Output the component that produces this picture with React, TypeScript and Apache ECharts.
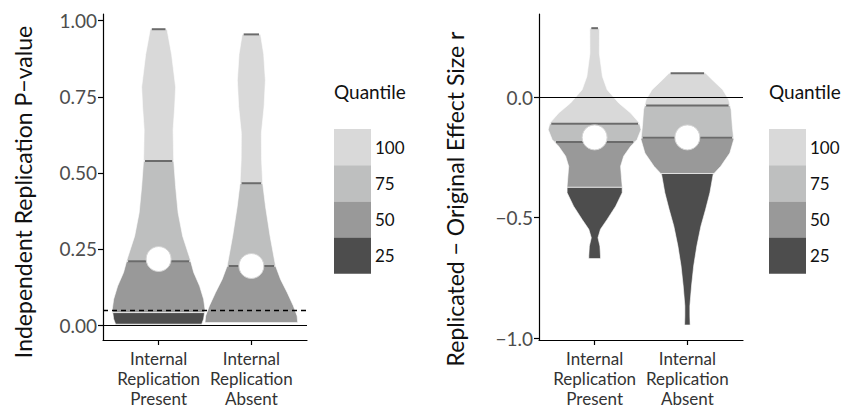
import React, { useEffect, useRef } from "react";
import * as echarts from "echarts";

// ---------- data ----------
const categories = ["Internal\nReplication\nPresent", "Internal\nReplication\nAbsent"];
const quantileLabels = ["100", "75", "50", "25"];

// Left panel: independent replication p-value
// violin outline: [value, half-width in category units], bottom to top
const pPresentProfile = [
  [0.003, 0.464], [0.02, 0.485], [0.052, 0.5], [0.085, 0.485], [0.128, 0.442],
  [0.173, 0.378], [0.216, 0.34], [0.292, 0.259], [0.369, 0.21], [0.455, 0.183],
  [0.543, 0.162], [0.641, 0.156], [0.717, 0.173], [0.782, 0.183], [0.889, 0.14],
  [0.972, 0.09],
];
const pAbsentProfile = [
  [0.008, 0.5], [0.03, 0.493], [0.063, 0.453], [0.107, 0.386], [0.15, 0.315],
  [0.194, 0.261], [0.292, 0.202], [0.389, 0.153], [0.466, 0.122], [0.543, 0.11],
  [0.63, 0.108], [0.717, 0.137], [0.804, 0.151], [0.89, 0.133], [0.955, 0.099],
];
// [min, q25, q50, q75, max]
const pPresentQuantiles = [0.003, 0.041, 0.21, 0.539, 0.972];
const pAbsentQuantiles = [0.008, 0.008, 0.194, 0.466, 0.955];
const pMeans = [0.217, 0.194];
const pTicks = [0, 0.25, 0.5, 0.75, 1];
const pThreshold = 0.05;

// Right panel: replicated - original effect size r
const rPresentProfile = [
  [-0.67, 0.063], [-0.659, 0.063], [-0.618, 0.057], [-0.583, 0.036], [-0.548, 0.063],
  [-0.507, 0.135], [-0.452, 0.227], [-0.396, 0.297], [-0.369, 0.297], [-0.327, 0.288],
  [-0.286, 0.28], [-0.244, 0.313], [-0.203, 0.388], [-0.175, 0.458], [-0.134, 0.5],
  [-0.106, 0.482], [-0.065, 0.388], [-0.023, 0.259], [0.032, 0.135], [0.087, 0.084],
  [0.183, 0.051], [0.288, 0.052],
];
const rAbsentProfile = [
  [-0.946, 0.03], [-0.908, 0.027], [-0.867, 0.027], [-0.784, 0.045], [-0.701, 0.068],
  [-0.618, 0.102], [-0.535, 0.146], [-0.465, 0.197], [-0.396, 0.243], [-0.32, 0.278],
  [-0.286, 0.36], [-0.231, 0.458], [-0.175, 0.5], [-0.12, 0.485], [-0.051, 0.472],
  [-0.01, 0.446], [0.032, 0.381], [0.073, 0.27], [0.101, 0.197],
];
const rPresentQuantiles = [-0.67, -0.373, -0.185, -0.109, 0.288];
const rAbsentQuantiles = [-0.946, -0.316, -0.168, -0.033, 0.101];
const rMeans = [-0.166, -0.166];
const rTicks = [-1, -0.5, 0];

// ---------- styles ----------
const FONT = "Lato";
const bandColors = ["#4d4d4d", "#999999", "#bebfbf", "#d9d9d9"]; // 25, 50, 75, 100
const legendColors = ["#d9d9d9", "#bebfbf", "#999999", "#4d4d4d"]; // 100..25

function hwAt(prof: number[][], v: number) {
  if (v <= prof[0][0]) return prof[0][1];
  for (let k = 1; k < prof.length; k++) {
    if (v <= prof[k][0]) {
      const [v0, h0] = prof[k - 1];
      const [v1, h1] = prof[k];
      return h0 + ((h1 - h0) * (v - v0)) / (v1 - v0);
    }
  }
  return prof[prof.length - 1][1];
}

function makeRenderItem(profiles: number[][][], quantiles: number[][]) {
  return (params: any, api: any) => {
    const i = params.dataIndex;
    const cat = api.value(0);
    const prof = profiles[i];
    const q = quantiles[i];
    const children: any[] = [];
    for (let b = 0; b < 4; b++) {
      const lo = q[b];
      const hi = q[b + 1];
      if (hi - lo < 1e-6) continue;
      const pts = [[lo, hwAt(prof, lo)], ...prof.filter((p) => p[0] > lo && p[0] < hi), [hi, hwAt(prof, hi)]];
      const right = pts.map(([v, h]) => api.coord([cat + h, v]));
      const left = pts.slice().reverse().map(([v, h]) => api.coord([cat - h, v]));
      children.push({
        type: "polygon",
        shape: { points: right.concat(left) },
        style: { fill: bandColors[b], stroke: "rgba(255,255,255,0.85)", lineWidth: 0.7 },
      });
    }
    for (const qi of [2, 3, 4]) {
      const v = q[qi];
      const h = hwAt(prof, v);
      const a = api.coord([cat - h, v]);
      const c = api.coord([cat + h, v]);
      children.push({
        type: "line",
        shape: { x1: a[0] + 1.5, y1: a[1], x2: c[0] - 1.5, y2: c[1] },
        style: { stroke: "#6b6b6b", lineWidth: 2 },
      });
    }
    return { type: "group", children };
  };
}

function xAxisFor(gridIndex: number) {
  return {
    type: "value",
    gridIndex,
    min: 0.4,
    max: 2.6,
    splitLine: { show: false },
    axisLine: { show: true, onZero: false, lineStyle: { color: "#000", width: 1.2 } },
    axisTick: { show: true, customValues: [1, 2], length: 5, lineStyle: { color: "#000", width: 1.2 } },
    axisLabel: {
      show: true,
      customValues: [1, 2],
      formatter: (v: number) => categories[Math.round(v) - 1],
      fontFamily: FONT,
      fontSize: 17,
      lineHeight: 20,
      color: "#333",
      margin: 8,
    },
  };
}

function yAxisFor(gridIndex: number, min: number, max: number, ticks: number[], digits: number) {
  return {
    type: "value",
    gridIndex,
    min,
    max,
    splitLine: { show: false },
    axisLine: { show: true, onZero: false, lineStyle: { color: "#000", width: 1.2 } },
    axisTick: { show: true, customValues: ticks, length: 5, lineStyle: { color: "#000", width: 1.2 } },
    axisLabel: {
      show: true,
      customValues: ticks,
      formatter: (v: number) => (v < 0 ? "\u2212" : "") + Math.abs(v).toFixed(digits),
      fontFamily: FONT,
      fontSize: 19,
      color: "#4d4d4d",
      margin: 6,
    },
  };
}

function legendGraphics(x: number) {
  const els: any[] = [
    {
      type: "text",
      x,
      y: 91,
      style: { text: "Quantile", fontFamily: FONT, fontSize: 19, fill: "#111", verticalAlign: "middle", align: "left" },
    },
  ];
  const top = 129;
  const h = 36.2;
  quantileLabels.forEach((lab, k) => {
    els.push({
      type: "rect",
      shape: { x, y: top + k * h, width: 37, height: h },
      style: { fill: legendColors[k] },
    });
    els.push({
      type: "text",
      x: x + 41,
      y: top + k * h + h / 2,
      style: { text: lab, fontFamily: FONT, fontSize: 17, fill: "#111", verticalAlign: "middle", align: "left" },
    });
  });
  return els;
}

export default function App() {
  const ref = useRef<HTMLDivElement>(null);
  useEffect(() => {
    if (!ref.current) return;
    const chart = echarts.init(ref.current, undefined, { renderer: "svg" });
    const lineBase = { silent: true, symbol: "none", label: { show: false } };
    const meanStyle = { color: "#fff", opacity: 1, borderColor: "#d4d4d4", borderWidth: 1 };
    chart.setOption({
      animation: false,
      backgroundColor: "#fff",
      grid: [
        { left: 103, top: 14, width: 204, height: 327 },
        { left: 539, top: 14, width: 204, height: 327 },
      ],
      xAxis: [xAxisFor(0), xAxisFor(1)],
      yAxis: [
        yAxisFor(0, -0.0491, 1.022, pTicks, 2),
        yAxisFor(1, -1.0083, 0.3469, rTicks, 1),
      ],
      series: [
        {
          type: "custom",
          xAxisIndex: 0,
          yAxisIndex: 0,
          z: 2,
          renderItem: makeRenderItem([pPresentProfile, pAbsentProfile], [pPresentQuantiles, pAbsentQuantiles]),
          encode: { x: 0, y: 1 },
          data: [
            [1, pPresentQuantiles[2]],
            [2, pAbsentQuantiles[2]],
          ],
          clip: false,
        },
        {
          type: "custom",
          xAxisIndex: 1,
          yAxisIndex: 1,
          z: 2,
          renderItem: makeRenderItem([rPresentProfile, rAbsentProfile], [rPresentQuantiles, rAbsentQuantiles]),
          encode: { x: 0, y: 1 },
          data: [
            [1, rPresentQuantiles[2]],
            [2, rAbsentQuantiles[2]],
          ],
          clip: false,
        },
        {
          type: "scatter",
          xAxisIndex: 0,
          yAxisIndex: 0,
          z: 5,
          symbolSize: 25,
          itemStyle: meanStyle,
          data: pMeans.map((m, k) => [k + 1, m]),
          markLine: {
            ...lineBase,
            data: [
              { yAxis: 0, lineStyle: { color: "#000", width: 1.2, type: "solid" } },
              { yAxis: pThreshold, lineStyle: { color: "#000", width: 1.3, type: [5, 4] } },
            ],
          },
        },
        {
          type: "scatter",
          xAxisIndex: 1,
          yAxisIndex: 1,
          z: 5,
          symbolSize: 25,
          itemStyle: meanStyle,
          data: rMeans.map((m, k) => [k + 1, m]),
          markLine: {
            ...lineBase,
            data: [{ yAxis: 0, lineStyle: { color: "#000", width: 1.2, type: "solid" } }],
          },
        },
      ],
      graphic: [
        {
          type: "text",
          x: 23,
          y: 192,
          rotation: Math.PI / 2,
          style: {
            text: "Independent Replication P\u2212value",
            fontFamily: FONT,
            fontSize: 23,
            fill: "#111",
            align: "center",
            verticalAlign: "middle",
          },
        },
        {
          type: "text",
          x: 455,
          y: 199,
          rotation: Math.PI / 2,
          style: {
            text: "Replicated \u2212 Original Effect Size r",
            fontFamily: FONT,
            fontSize: 23,
            fill: "#111",
            align: "center",
            verticalAlign: "middle",
          },
        },
        ...legendGraphics(334),
        ...legendGraphics(769),
      ],
    });
    return () => chart.dispose();
  }, []);
  return <div ref={ref} style={{ position: "fixed", left: 0, top: 0, width: 841, height: 408 }} />;
}
